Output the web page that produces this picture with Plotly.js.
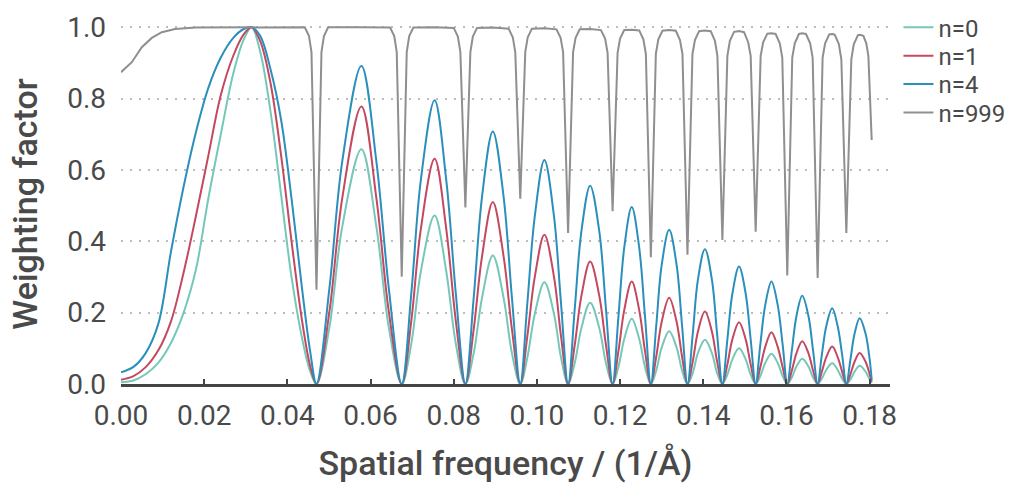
<!DOCTYPE html>
<html>
<head>
<meta charset="utf-8">
<script src="https://cdn.plot.ly/plotly-3.0.1.min.js"></script>
<style>
html, body { margin: 0; padding: 0; background: #fff; }
#chart { width: 1029px; height: 494px; }
</style>
</head>
<body>
<div id="chart"></div>
<script>
/*
 Data
*/

// spatial frequency (1/A) samples shared by n=0, n=1, n=4
var freq = [
  0, 0.003, 0.006, 0.009, 0.012, 0.015, 0.018, 0.021, 0.024, 0.027, 0.0295, 0.0314,
  0.0335, 0.036, 0.0385, 0.041, 0.0435, 0.0455, 0.047,
  0.0501, 0.0532, 0.0578, 0.0614, 0.0644, 0.0675,
  0.0698, 0.0721, 0.0754, 0.0782, 0.0805, 0.0828,
  0.0848, 0.0868, 0.0894, 0.0920, 0.0940, 0.0960,
  0.0977, 0.0995, 0.1018, 0.1041, 0.1058, 0.1075,
  0.1091, 0.1107, 0.1128, 0.1150, 0.1166, 0.1182,
  0.1196, 0.1210, 0.1228, 0.1246, 0.1260, 0.1274,
  0.1287, 0.1300, 0.1318, 0.1336, 0.1349, 0.1362,
  0.1375, 0.1387, 0.1404, 0.1421, 0.1433, 0.1446,
  0.1458, 0.1470, 0.1486, 0.1502, 0.1514, 0.1526,
  0.1537, 0.1549, 0.1564, 0.1579, 0.1591, 0.1602,
  0.1613, 0.1624, 0.1638, 0.1653, 0.1664, 0.1675,
  0.1685, 0.1696, 0.1710, 0.1723, 0.1734, 0.1744,
  0.1754, 0.1764, 0.1776, 0.1790, 0.1800, 0.1805
];

var w_n0 = [
  0.005, 0.01, 0.028, 0.06, 0.115, 0.198, 0.32, 0.52, 0.70, 0.87, 0.965, 1.0,
  0.93, 0.76, 0.53, 0.30, 0.13, 0.035, 0,
  0.158, 0.441, 0.658, 0.441, 0.158, 0,
  0.113, 0.316, 0.472, 0.316, 0.113, 0,
  0.086, 0.241, 0.360, 0.241, 0.086, 0,
  0.074, 0.197, 0.285, 0.197, 0.074, 0,
  0.059, 0.157, 0.228, 0.157, 0.059, 0,
  0.048, 0.126, 0.183, 0.126, 0.048, 0,
  0.038, 0.102, 0.148, 0.102, 0.038, 0,
  0.032, 0.086, 0.124, 0.086, 0.032, 0,
  0.026, 0.069, 0.100, 0.069, 0.026, 0,
  0.022, 0.059, 0.085, 0.059, 0.022, 0,
  0.018, 0.049, 0.071, 0.049, 0.018, 0,
  0.015, 0.040, 0.058, 0.040, 0.015, 0,
  0.013, 0.035, 0.051, 0.035, 0.013, 0.003
];

var w_n1 = [
  0.012, 0.022, 0.048, 0.095, 0.175, 0.31, 0.47, 0.64, 0.81, 0.92, 0.98, 1.0,
  0.96, 0.84, 0.64, 0.40, 0.18, 0.05, 0,
  0.202, 0.521, 0.778, 0.521, 0.202, 0,
  0.177, 0.435, 0.631, 0.435, 0.177, 0,
  0.153, 0.357, 0.510, 0.357, 0.153, 0,
  0.134, 0.301, 0.418, 0.301, 0.134, 0,
  0.110, 0.247, 0.343, 0.247, 0.110, 0,
  0.092, 0.207, 0.287, 0.207, 0.092, 0,
  0.077, 0.174, 0.242, 0.174, 0.077, 0,
  0.065, 0.146, 0.203, 0.146, 0.065, 0,
  0.055, 0.125, 0.173, 0.125, 0.055, 0,
  0.046, 0.104, 0.145, 0.104, 0.046, 0,
  0.038, 0.086, 0.120, 0.086, 0.038, 0,
  0.034, 0.076, 0.105, 0.076, 0.034, 0,
  0.028, 0.063, 0.087, 0.063, 0.028, 0.006
];

var w_n4 = [
  0.033, 0.048, 0.088, 0.17, 0.37, 0.55, 0.705, 0.83, 0.915, 0.97, 0.995, 1.0,
  0.975, 0.88, 0.74, 0.52, 0.27, 0.09, 0,
  0.267, 0.624, 0.891, 0.624, 0.267, 0,
  0.254, 0.572, 0.795, 0.572, 0.254, 0,
  0.241, 0.524, 0.708, 0.524, 0.241, 0,
  0.226, 0.471, 0.628, 0.471, 0.226, 0,
  0.211, 0.428, 0.556, 0.428, 0.211, 0,
  0.188, 0.382, 0.496, 0.382, 0.188, 0,
  0.164, 0.333, 0.432, 0.333, 0.164, 0,
  0.144, 0.291, 0.378, 0.291, 0.144, 0,
  0.125, 0.253, 0.329, 0.253, 0.125, 0,
  0.109, 0.221, 0.287, 0.221, 0.109, 0,
  0.094, 0.190, 0.247, 0.190, 0.094, 0,
  0.081, 0.163, 0.212, 0.163, 0.081, 0,
  0.070, 0.142, 0.184, 0.142, 0.070, 0.012
];

// n=999 has narrow dips, so it gets its own denser samples
var freq999 = [
  0, 0.0026, 0.005, 0.0074, 0.0098, 0.013, 0.018, 0.030,
  0.0442, 0.0452, 0.0458, 0.0470, 0.0482, 0.0488, 0.0498, 0.0572,
  0.0647, 0.0657, 0.0663, 0.0675, 0.0687, 0.0693, 0.0703, 0.0752,
  0.0800, 0.0810, 0.0816, 0.0828, 0.0840, 0.0846, 0.0856, 0.0894,
  0.0932, 0.0942, 0.0948, 0.0960, 0.0972, 0.0978, 0.0988, 0.1018,
  0.1047, 0.1057, 0.1063, 0.1075, 0.1087, 0.1093, 0.1103, 0.1128,
  0.1154, 0.1164, 0.1170, 0.1182, 0.1194, 0.1200, 0.1210, 0.1228,
  0.1246, 0.1256, 0.1262, 0.1274, 0.1286, 0.1292, 0.1302, 0.1318,
  0.1334, 0.1344, 0.1350, 0.1362, 0.1374, 0.1380, 0.1390, 0.1404,
  0.1418, 0.1428, 0.1434, 0.1446, 0.1458, 0.1464, 0.1474, 0.1486,
  0.1498, 0.1508, 0.1514, 0.1526, 0.1538, 0.1544, 0.1554, 0.1564,
  0.1574, 0.1584, 0.1590, 0.1602, 0.1614, 0.1620, 0.1630, 0.1638,
  0.1647, 0.1657, 0.1663, 0.1675, 0.1687, 0.1693, 0.1703, 0.1710,
  0.1716, 0.1726, 0.1732, 0.1744, 0.1756, 0.1762, 0.1772, 0.1777,
  0.1785, 0.1792, 0.1797, 0.1805
];

var w_n999 = [
  0.874, 0.902, 0.944, 0.970, 0.986, 0.995, 0.999, 1.0,
  1.0, 0.975, 0.93, 0.264, 0.93, 0.975, 1.0, 1.0,
  0.999, 0.975, 0.93, 0.301, 0.93, 0.975, 0.999, 1.0,
  0.998, 0.974, 0.93, 0.495, 0.93, 0.974, 0.998, 0.999,
  0.996, 0.972, 0.93, 0.519, 0.93, 0.972, 0.996, 0.997,
  0.994, 0.970, 0.93, 0.423, 0.93, 0.970, 0.994, 0.995,
  0.992, 0.968, 0.928, 0.484, 0.928, 0.968, 0.992, 0.993,
  0.991, 0.966, 0.925, 0.355, 0.925, 0.966, 0.990, 0.992,
  0.990, 0.964, 0.925, 0.362, 0.925, 0.964, 0.989, 0.991,
  0.989, 0.962, 0.92, 0.404, 0.92, 0.962, 0.987, 0.989,
  0.986, 0.958, 0.92, 0.427, 0.92, 0.958, 0.982, 0.983,
  0.981, 0.955, 0.915, 0.304, 0.915, 0.955, 0.981, 0.983,
  0.981, 0.955, 0.915, 0.297, 0.915, 0.955, 0.980, 0.981,
  0.979, 0.953, 0.91, 0.423, 0.91, 0.953, 0.978, 0.979,
  0.976, 0.955, 0.92, 0.684
];

var names = ["n=0", "n=1", "n=4", "n=999"];
var colors = ["#75c8b8", "#c4485f", "#2b8fbc", "#8f8f8f"];

/*
 Plot
*/

var font = "Roboto, 'Open Sans', sans-serif";
var ys = [w_n0, w_n1, w_n4];
var legendIds = ["legend", "legend2", "legend3", "legend4"];

var data = ys.map(function(y, i) {
  return {
    x: freq,
    y: y,
    name: names[i],
    legend: legendIds[i],
    type: "scatter",
    mode: "lines",
    line: {color: colors[i], width: 2, shape: "spline", smoothing: 1},
    hoverinfo: "skip"
  };
});

data.push({
  x: freq999,
  y: w_n999,
  name: names[3],
  legend: legendIds[3],
  type: "scatter",
  mode: "lines",
  line: {color: colors[3], width: 2},
  hoverinfo: "skip"
});

// one small legend per trace, so the rows can sit as close as in the original
var legendY = [0.99, 0.911, 0.832, 0.753];

var layout = {
  width: 1029,
  height: 494,
  margin: {l: 121, r: 139, t: 24, b: 110, autoexpand: false},
  paper_bgcolor: "#fff",
  plot_bgcolor: "#fff",
  font: {family: font, color: "#444"},
  showlegend: true,
  xaxis: {
    range: [0, 0.1849],
    tickvals: [0, 0.02, 0.04, 0.06, 0.08, 0.1, 0.12, 0.14, 0.16, 0.18],
    ticktext: ["0.00", "0.02", "0.04", "0.06", "0.08", "0.10", "0.12", "0.14", "0.16", "0.18"],
    ticks: "inside",
    ticklen: 5,
    tickwidth: 2,
    tickcolor: "#444",
    showline: true,
    linecolor: "#444",
    linewidth: 2.5,
    showgrid: false,
    zeroline: false,
    tickfont: {family: font, size: 28, color: "#4a4a4a"},
    ticklabelstandoff: 5,
    title: {text: "Spatial frequency / (1/Å)", font: {family: font, size: 34, color: "#4a4a4a", weight: 500}, standoff: 20}
  },
  yaxis: {
    range: [0, 1.009],
    tickvals: [0, 0.2, 0.4, 0.6, 0.8, 1.0],
    ticktext: ["0.0", "0.2", "0.4", "0.6", "0.8", "1.0"],
    showline: false,
    ticks: "",
    zeroline: false,
    showgrid: true,
    gridcolor: "#bdbdbd",
    gridwidth: 2,
    griddash: "2px,7px",
    tickfont: {family: font, size: 28, color: "#4a4a4a"},
    ticklabelstandoff: 14,
    title: {text: "Weighting factor", font: {family: font, size: 34, color: "#4a4a4a", weight: 500}, standoff: 19}
  }
};

legendIds.forEach(function(id, i) {
  layout[id] = {
    x: 1.011,
    xanchor: "left",
    y: legendY[i],
    yanchor: "middle",
    bgcolor: "rgba(0,0,0,0)",
    borderwidth: 0,
    font: {family: font, size: 24, color: "#4a4a4a"}
  };
});

var config = {
  displayModeBar: false,
  staticPlot: true
};

Plotly.newPlot("chart", data, layout, config);
</script>
</body>
</html>
